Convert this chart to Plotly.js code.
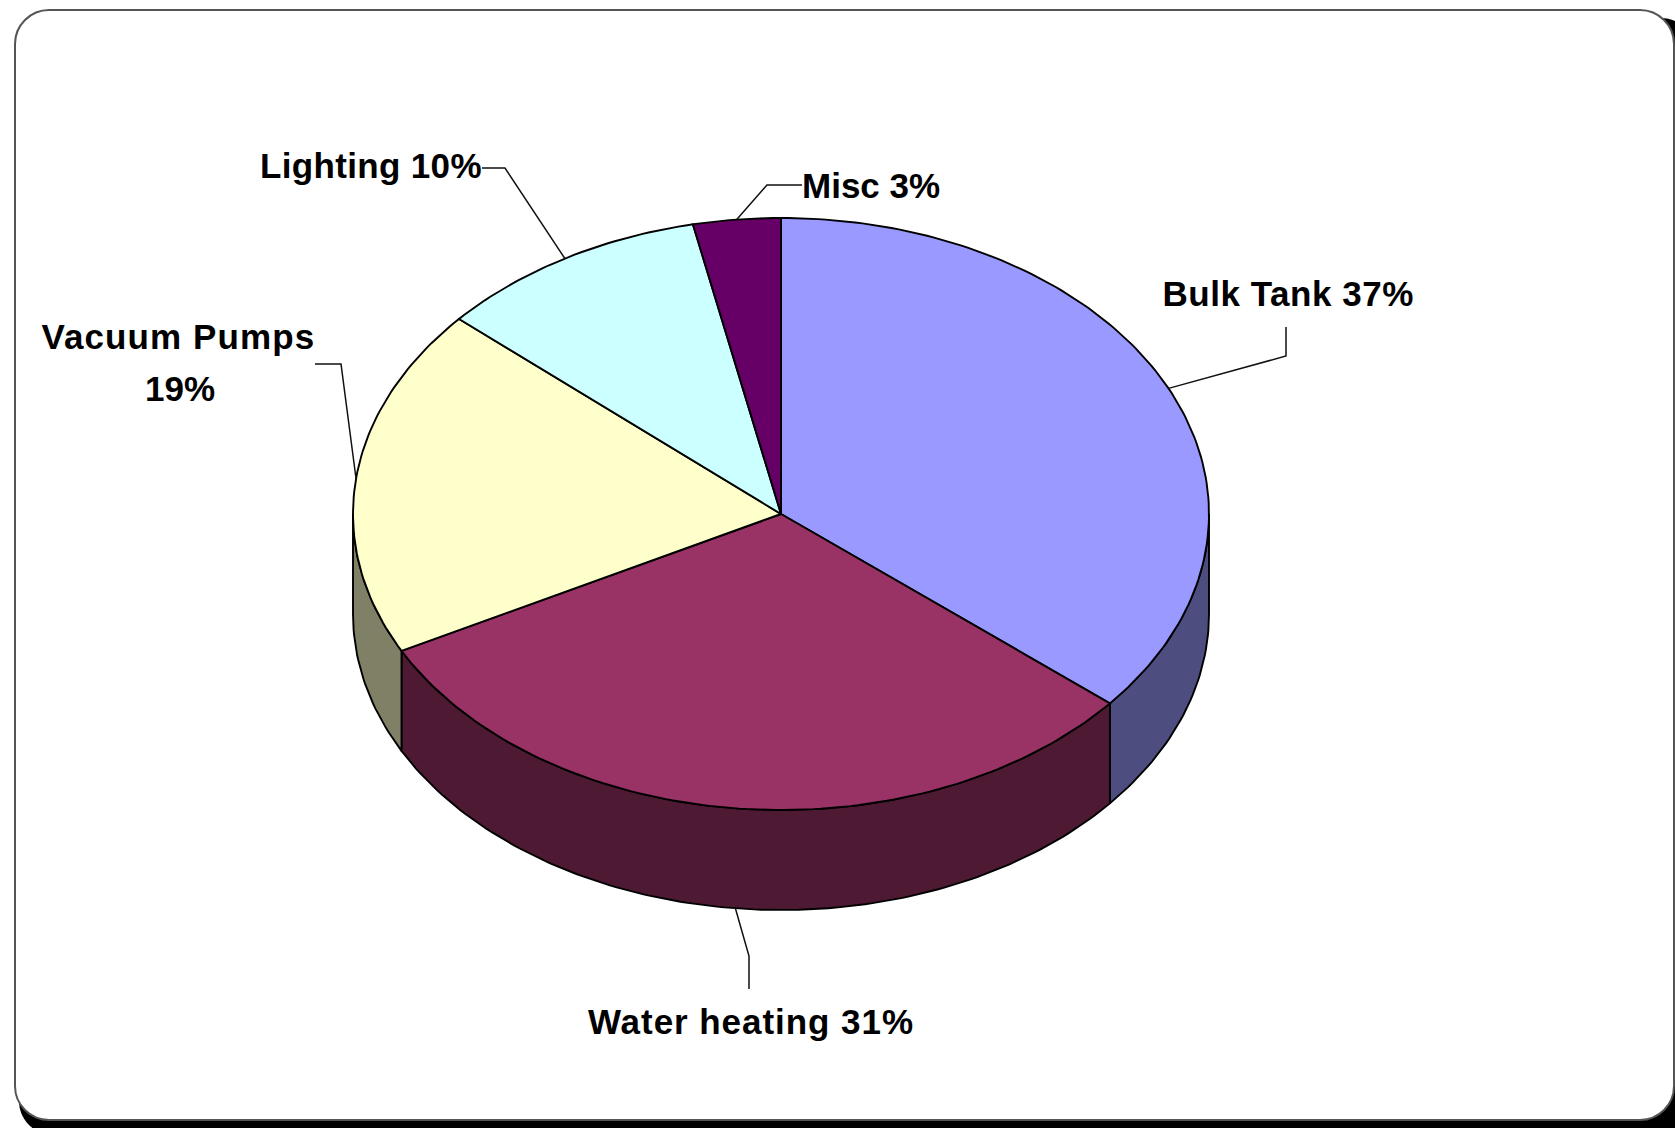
<!DOCTYPE html>
<html>
<head>
<meta charset="utf-8">
<script src="https://cdn.plot.ly/plotly-3.0.1.min.js"></script>
<style>html,body{margin:0;padding:0;background:#fff;overflow:hidden}#chart{width:1675px;height:1128px}</style>
</head>
<body>
<div id="chart"></div>
<script>
// --- data ---
const categories = ["Bulk Tank", "Water heating", "Vacuum Pumps", "Lighting", "Misc"];
const sliceShares = [36.05, 31.3, 19.1, 10.25, 3.3];     // swept share of each slice as drawn
const labelPercents = [37, 31, 19, 10, 3];               // percentages printed in the labels
const topColors = ["#9999FF", "#993366", "#FFFFCC", "#CCFFFF", "#660066"];
const sideColors = ["#4D4D80", "#4D1933", "#808066", "#666680", "#330033"];

// --- layout of the tilted disc (axis units equal page pixels) ---
const cx = 781, cy = 514, rx = 428, ry = 296, depth = 100;
const labelBoxes = [
  [{x: 1288, y: 293, text: "%c %p%", spacing: 0.55}],
  [{x: 750.5, y: 1021, text: "%c %p%", spacing: 0.95}],
  [{x: 178.5, y: 336, text: "%c", spacing: 1.1}, {x: 180, y: 388, text: "%p%", spacing: 0}],
  [{x: 371, y: 165, text: "%c %p%", spacing: 0.35}],
  [{x: 871, y: 185, text: "%c %p%", spacing: 0}]
];
const leaderElbows = [
  [[1286, 356], [1286, 327]],
  [[749, 956], [749, 989]],
  [[341, 364], [315, 364]],
  [[505, 168], [482, 168]],
  [[767, 185], [802, 185]]
];

const rad = d => d * Math.PI / 180;
const px = a => cx + rx * Math.sin(rad(a));
const py = (a, dz) => cy - ry * Math.cos(rad(a)) + (dz || 0);
function arc(a0, a1, dz) {
  const xs = [], ys = [], n = Math.max(2, Math.ceil(Math.abs(a1 - a0)));
  for (let i = 0; i <= n; i++) {
    const a = a0 + (a1 - a0) * i / n;
    xs.push(px(a)); ys.push(py(a, dz));
  }
  return [xs, ys];
}

const total = sliceShares.reduce((s, v) => s + v, 0);
let run = 0;
const slices = sliceShares.map(v => {
  const a0 = run / total * 360; run += v;
  return {a0, a1: run / total * 360};
});

const traces = [];
const outline = {color: "#000000", width: 1.9};
const base = {type: "scatter", mode: "lines", fill: "toself", hoverinfo: "skip", line: outline, showlegend: false};

// side walls: only the front half of the rim is visible
slices.forEach((s, i) => {
  const a0 = Math.max(s.a0, 90), a1 = Math.min(s.a1, 270);
  if (a1 <= a0) return;
  const [tx, ty] = arc(a0, a1, 0);
  const [bx, by] = arc(a1, a0, depth);
  traces.push(Object.assign({}, base, {
    name: categories[i] + " side",
    x: tx.concat(bx, [tx[0]]), y: ty.concat(by, [ty[0]]), fillcolor: sideColors[i]
  }));
});

// top faces
slices.forEach((s, i) => {
  const [ax, ay] = arc(s.a0, s.a1, 0);
  traces.push(Object.assign({}, base, {
    name: categories[i],
    x: [cx].concat(ax, [cx]), y: [cy].concat(ay, [cy]), fillcolor: topColors[i]
  }));
});

// leader lines: anchored on the rim at each slice's mid angle
slices.forEach((s, i) => {
  const mid = (s.a0 + s.a1) / 2;
  const front = categories[i] === "Water heating";
  const xs = [px(mid)], ys = [py(mid, front ? depth : 0)];
  leaderElbows[i].forEach(p => { xs.push(p[0]); ys.push(p[1]); });
  traces.push({type: "scatter", mode: "lines", x: xs, y: ys, hoverinfo: "skip", showlegend: false,
    name: categories[i] + " leader", line: {color: "#111111", width: 1.5}});
});

const spacings = [];
const annotations = [];
categories.forEach((c, i) => {
  labelBoxes[i].forEach(b => {
    spacings.push(b.spacing);
    annotations.push({
      x: b.x, y: b.y, xref: "x", yref: "y", showarrow: false,
      xanchor: "center", yanchor: "middle", align: "center",
      text: "<b>" + b.text.replace("%c", c).replace("%p", labelPercents[i]) + "</b>",
      font: {family: "Liberation Sans, Arial, sans-serif", size: 35, color: "#000000"}
    });
  });
});

function rr(x0, y0, x1, y1, r) {
  const k = r * 0.45;
  return `M${x0 + r},${y0} L${x1 - r},${y0} C${x1 - k},${y0} ${x1},${y0 + k} ${x1},${y0 + r} L${x1},${y1 - r} C${x1},${y1 - k} ${x1 - k},${y1} ${x1 - r},${y1} L${x0 + r},${y1} C${x0 + k},${y1} ${x0},${y1 - k} ${x0},${y1 - r} L${x0},${y0 + r} C${x0},${y0 + k} ${x0 + k},${y0} ${x0 + r},${y0} Z`;
}
const shapes = [
  {type: "path", xref: "x", yref: "y", layer: "below", path: rr(19, 18, 1695, 1135, 34), fillcolor: "#000000", line: {color: "#000000", width: 0}},
  {type: "path", xref: "x", yref: "y", layer: "below", path: rr(15, 10, 1674, 1120, 34), fillcolor: "#FFFFFF", line: {color: "#555555", width: 2}}
];

Plotly.newPlot("chart", traces, {
  width: 1675, height: 1128,
  margin: {l: 0, r: 0, t: 0, b: 0},
  paper_bgcolor: "#FFFFFF", plot_bgcolor: "rgba(0,0,0,0)",
  xaxis: {range: [0, 1675], visible: false, fixedrange: true},
  yaxis: {range: [1128, 0], visible: false, fixedrange: true},
  showlegend: false, annotations, shapes
}, {displayModeBar: false, staticPlot: true}).then(() => {
  document.querySelectorAll("#chart .annotation").forEach(g => {
    const idx = +g.getAttribute("data-index");
    const t = g.querySelector("text");
    if (t) t.style.letterSpacing = spacings[idx] + "px";
  });
});
</script>
</body>
</html>
